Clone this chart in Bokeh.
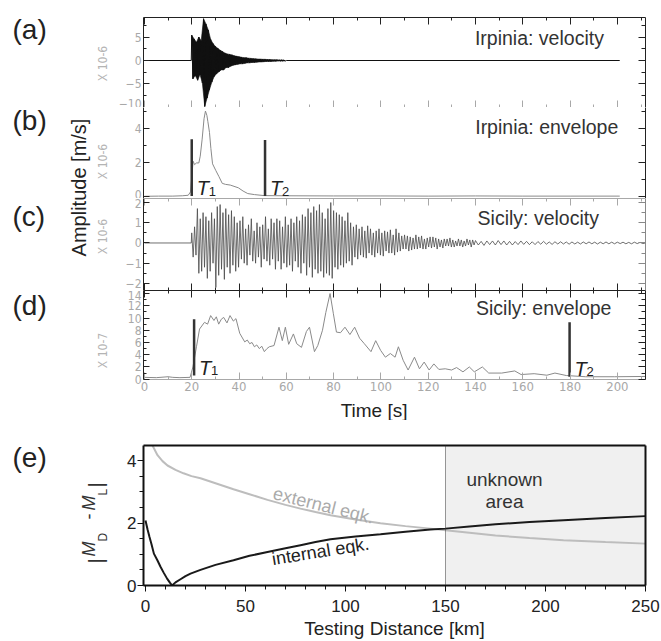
import numpy as np
from bokeh.plotting import figure
from bokeh.models import Range1d, LinearAxis, FixedTicker, BoxAnnotation, Span
from bokeh.layouts import row, column
from bokeh.embed import file_html
from bokeh.resources import INLINE
from bokeh.core.properties import value

# ------------------------------------------------------------------ data
# (a) Irpinia velocity [1e-6 m/s]: half-cycle peaks every 0.5 s starting at 20 s
a_start, a_step = 20.0, 0.5
a_vel = [5.4, -3.9, 4.6, -3.2, 3.9, -4.2, 5.0, -3.0, 4.2, -4.8,
         8.9, -9.8, 7.8, -8.0, 6.5, -6.2, 4.5, -4.6, 3.6, -3.4,
         3.0, -2.8, 2.6, -2.4, 2.2, -2.0, 1.9, -2.0, 1.6, -1.5,
         1.4, -1.5, 1.3, -1.2, 1.2, -1.0, 1.0, -0.9, 0.9, -0.8,
         0.8, -0.7, 0.7, -0.7, 0.6, -0.6, 0.6, -0.5, 0.5, -0.5,
         0.45, -0.4, 0.4, -0.4, 0.35, -0.35, 0.3, -0.3, 0.3, -0.3,
         0.25, -0.25, 0.25, -0.2, 0.2, -0.2, 0.2, -0.2, 0.15, -0.15,
         0.15, -0.15, 0.15, -0.1, 0.1, -0.1, 0.1, -0.1, 0.1, -0.1]
a_quiet_before = [0.0, 19.8]
a_quiet_after_end = 201.0

# (b) Irpinia envelope [1e-6 m/s]
b_t = [0, 6, 12, 16, 18.5, 19.5, 20.0, 20.6, 21.2, 22.0,
       23.0, 23.6, 24.4, 25.2, 25.8, 26.4, 26.8, 27.5, 28.1, 28.8,
       30.2, 31.5, 32.9, 34.3, 36.3, 39.7, 41.7, 43.7, 46.5, 50.6,
       60, 80, 100, 120, 140, 160, 180, 201]
b_env = [0.04, 0.05, 0.05, 0.07, 0.1, 0.3, 1.2, 2.1, 1.9, 2.0,
         2.0, 2.4, 3.4, 4.6, 5.05, 4.8, 4.45, 3.8, 2.85, 1.95,
         1.55, 1.2, 0.8, 0.74, 0.7, 0.54, 0.35, 0.2, 0.14, 0.08,
         0.07, 0.06, 0.06, 0.05, 0.06, 0.05, 0.05, 0.05]
b_T = [20.0, 51.0]
b_T_bot = [0.05, 0.05]
b_T_top = [3.4, 3.35]

# (c) Sicily velocity [1e-6 m/s]: half-cycle peaks every 0.6 s from 20 s, then tail every 1.2 s
c_start, c_step = 20.0, 0.6
c_vel = [0.5, -0.7, 0.8, -0.6, 1.7, -1.5, 1.2, -1.4, 1.5, -1.2,
         1.3, -1.75, 1.1, -1.4, 1.5, -1.0, 1.2, -2.2, 1.8, -1.6,
         1.9, -1.3, 1.5, -1.8, 1.7, -1.2, 1.4, -1.5, 1.6, -1.1,
         1.3, -1.4, 1.0, -1.2, 1.1, -0.8, 1.3, -1.0, 0.7, -1.1,
         0.9, -0.6, 1.2, -0.9, 0.6, -1.0, 1.0, -0.7, 0.8, -1.2,
         0.9, -0.8, 1.3, -0.9, 0.7, -1.1, 1.2, -0.8, 1.0, -1.3,
         1.2, -0.9, 1.1, -1.3, 0.8, -1.0, 1.3, -1.2, 0.9, -1.1,
         1.2, -1.4, 1.0, -0.9, 1.3, -1.2, 1.1, -1.5, 1.4, -1.0,
         1.3, -1.6, 1.7, -1.2, 1.5, -1.7, 1.8, -1.3, 1.6, -1.5,
         1.9, -1.4, 1.5, -1.7, 1.2, -1.5, 1.7, -1.6, 2.0, -1.75,
         1.6, -1.2, 1.5, -1.3, 1.4, -1.1, 1.3, -1.2, 1.1, -1.0,
         1.5, -0.9, 1.0, -1.1, 0.8, -0.7, 0.9, -0.8, 0.7, -0.6,
         0.8, -0.7, 0.6, -0.75, 0.85, -0.5, 0.7, -0.6, 0.5, -0.7,
         0.6, -0.5, 0.7, -0.6, 0.5, -0.65, 0.6, -0.4, 0.55, -0.5,
         0.65, -0.5, 0.4, -0.6, 0.7, -0.45, 0.5, -0.4, 0.35, -0.3,
         0.4, -0.3, 0.35, -0.4, 0.3, -0.35, 0.25, -0.3, 0.4, -0.3,
         0.3, -0.25, 0.35, -0.3, 0.2, -0.3, 0.25, -0.2, 0.3, -0.25,
         0.3, -0.2, 0.25, -0.3, 0.2, -0.2, 0.15, -0.25, 0.2, -0.15,
         0.2, -0.15, 0.25, -0.2, 0.15, -0.2, 0.1, -0.15, 0.2, -0.15,
         0.15, -0.2, 0.1, -0.15, 0.2, -0.1, 0.15, -0.2, 0.15, -0.1]
c_tail_start, c_tail_step = 140.0, 1.2
c_tail = [0.12, -0.1, 0.08, -0.12, 0.1, -0.08, 0.1, -0.1, 0.12, -0.08,
          0.1, -0.1, 0.08, -0.1, 0.07, -0.08, 0.1, -0.07, 0.08, -0.08,
          0.06, -0.08, 0.07, -0.06, 0.08, -0.06, 0.05, -0.07, 0.06, -0.05,
          0.06, -0.05, 0.05, -0.06, 0.05, -0.05, 0.04, -0.05, 0.05, -0.04,
          0.05, -0.04, 0.04, -0.05, 0.04, -0.04, 0.05, -0.04, 0.04, -0.04,
          0.04, -0.03, 0.04, -0.04, 0.03, -0.04, 0.04, -0.03, 0.03, -0.03]
c_quiet_before = [0.0, 19.8]

# (d) Sicily envelope [1e-7 m/s]
d_t = [0, 5, 10, 12, 15, 19.3, 20.5, 22.0, 23.3, 25.4,
       26.7, 28.0, 29.4, 30.4, 31.4, 32.5, 33.5, 34.9, 36.2, 37.6,
       38.7, 40.3, 42.4, 43.5, 44.5, 45.5, 46.5, 47.5, 48.6, 49.6,
       50.7, 51.8, 52.8, 54.8, 56.9, 58.3, 59.6, 61.0, 63.0, 64.4,
       66.4, 68.5, 69.8, 71.9, 73.3, 75.3, 76.7, 78.5, 79.9, 81.2,
       82.9, 84.8, 86.9, 88.9, 91.0, 93.0, 95.8, 97.8, 99.9, 101.9,
       104.0, 106.0, 107.4, 109.4, 111.5, 114.2, 116.3, 118.3, 120.4, 122.4,
       124.5, 127.2, 129.9, 132.0, 134.7, 137.4, 139.5, 142.9, 145.6, 151.1,
       156.6, 159.3, 164.8, 170.2, 173.6, 178.4, 186.6, 198.9, 212]
d_env = [0.3, 0.25, 0.4, 0.3, 0.25, 0.3, 2.0, 5.3, 8.2, 9.3,
         9.0, 10.4, 9.6, 10.2, 9.0, 9.8, 10.1, 9.2, 10.4, 9.5,
         9.9, 7.5, 6.1, 6.4, 5.8, 6.0, 5.3, 5.6, 5.0, 5.4,
         4.5, 5.0, 5.3, 5.5, 8.5, 6.3, 8.5, 5.7, 7.4, 5.8,
         5.2, 7.8, 8.5, 4.5, 5.5, 8.0, 10.9, 14.0, 10.7, 7.7,
         7.6, 8.5, 7.3, 8.5, 6.7, 5.8, 4.5, 6.3, 4.7, 3.6,
         4.2, 3.6, 5.3, 3.1, 1.5, 3.6, 1.7, 2.8, 1.5, 2.5,
         1.6, 1.7, 1.5, 1.9, 1.2, 2.0, 1.2, 2.0, 1.0, 1.0,
         1.35, 0.76, 0.9, 0.65, 1.0, 0.6, 0.4, 0.4, 0.45]
d_T = [21.0, 179.8]
d_T_bot = [0.6, 0.4]
d_T_top = [9.8, 9.3]

# time axis ticks
t_major = list(range(0, 201, 20))
t_minor = list(range(0, 211, 10))

# (e) |MD - ML| vs testing distance
int_d = [0, 1, 2, 3, 4.2, 6, 7.5, 9, 10.8, 12.2,
         13.3, 15, 17.5, 20, 22.5, 27.5, 35, 44, 52, 61,
         70, 77.5, 85, 92.5, 105, 117.5, 130, 142.5, 150, 162,
         175, 192, 209, 230, 250]
int_v = [2.08, 1.8, 1.55, 1.32, 1.02, 0.8, 0.6, 0.42, 0.22, 0.09,
         0.0, 0.1, 0.2, 0.3, 0.38, 0.5, 0.66, 0.81, 0.95, 1.07,
         1.19, 1.29, 1.39, 1.48, 1.57, 1.64, 1.72, 1.79, 1.82, 1.89,
         1.96, 2.03, 2.09, 2.16, 2.22]
ext_d = [2.0, 3.5, 6, 8.5, 11, 15, 19, 23, 27.5, 35,
         44, 52, 61, 70, 77.5, 85, 92.5, 105, 117.5, 130,
         142.5, 150, 162, 175, 192, 209, 230, 250]
ext_v = [4.75, 4.48, 4.17, 3.98, 3.84, 3.7, 3.59, 3.5, 3.43, 3.27,
         3.08, 2.92, 2.74, 2.58, 2.46, 2.35, 2.25, 2.11, 1.99, 1.9,
         1.82, 1.77, 1.69, 1.6, 1.52, 1.45, 1.39, 1.34]
unknown_area = [150, 250]
e_xticks = [0, 50, 100, 150, 200, 250]
e_xminor = list(range(0, 251, 10))
e_yticks = [0, 2, 4]
e_yminor = [0.5 * i for i in range(9)]

# ------------------------------------------------------------------ styles
FONT = "Liberation Sans"
NARROW = "Liberation Sans Narrow, DejaVu Sans Condensed, sans-serif"
INK = "#222222"
GREY = "#a8a8a8"

# ------------------------------------------------------------------ build traces
a_t = list(a_quiet_before) + [a_start + a_step * i for i in range(len(a_vel))]
a_y = [0.0, 0.0] + a_vel
a_t += [a_t[-1] + a_step, a_quiet_after_end]
a_y += [0.0, 0.0]
# dense band of the Irpinia trace: positive peaks forward, negative peaks backward
a_pk_t = [a_start + a_step * i for i in range(len(a_vel))]
a_up = [(t, v) for t, v in zip(a_pk_t, a_vel) if v > 0]
a_lo = [(t, v) for t, v in zip(a_pk_t, a_vel) if v < 0]
band_x = [t for t, _ in a_up] + [t for t, _ in reversed(a_lo)]
band_y = [v for _, v in a_up] + [v for _, v in reversed(a_lo)]

c_t = list(c_quiet_before) + [c_start + c_step * i for i in range(len(c_vel))] + \
      [c_tail_start + c_tail_step * i for i in range(len(c_tail))] + [211.9]
c_y = [0.0, 0.0] + c_vel + c_tail + [0.0]

xr = Range1d(-0.4, 211.9)
WIDTH = 553


def panel(yr, height, top=0, bottom=0):
    p = figure(width=WIDTH, height=height, x_range=xr, y_range=Range1d(*yr),
               x_axis_location=None, y_axis_location=None, toolbar_location=None,
               output_backend="svg", min_border_left=19, min_border_right=16,
               min_border_top=top, min_border_bottom=bottom)
    p.grid.visible = False
    p.outline_line_color = None
    return p


def hide_labels(ax):
    ax.major_label_text_font_size = "0px"
    ax.major_label_text_color = None
    ax.major_label_standoff = 0


def xaxis(color, labels=False):
    ax = LinearAxis(ticker=FixedTicker(ticks=t_major, minor_ticks=t_minor))
    ax.axis_line_color = color
    ax.major_tick_line_color = color
    ax.minor_tick_line_color = color
    ax.major_tick_in, ax.major_tick_out = 7, 0
    ax.minor_tick_in, ax.minor_tick_out = 3, 0
    if labels:
        ax.major_label_text_font = NARROW
        ax.major_label_text_font_size = "13px"
        ax.major_label_text_color = GREY
        ax.major_label_standoff = 2
    else:
        hide_labels(ax)
    return ax


def yaxes(p, major, minor, color=INK, rcolor=INK):
    left = LinearAxis(ticker=FixedTicker(ticks=major, minor_ticks=minor))
    left.axis_line_color = color
    left.major_tick_line_color = color
    left.minor_tick_line_color = color
    left.major_tick_in, left.major_tick_out = 6, 0
    left.minor_tick_in, left.minor_tick_out = 3, 0
    left.major_label_text_font = NARROW
    left.major_label_text_font_size = "12px"
    left.major_label_text_color = GREY
    left.major_label_standoff = 2
    p.add_layout(left, "left")
    right = LinearAxis(ticker=FixedTicker(ticks=major, minor_ticks=minor))
    right.axis_line_color = rcolor
    right.major_tick_line_color = rcolor
    right.minor_tick_line_color = rcolor
    right.major_tick_in, right.major_tick_out = 7, 0
    right.minor_tick_in, right.minor_tick_out = 4, 0
    hide_labels(right)
    p.add_layout(right, "right")


def title(p, x, y, txt):
    p.text(x=[x], y=[y], text=[txt], text_align="right", text_baseline="middle",
           text_font=value(FONT), text_font_size="19.5px", text_color="#333333")


def markers(p, ts, bots, tops, subs):
    p.segment(x0=ts, y0=bots, x1=ts, y1=tops, line_width=2.5, line_color="#333333")
    p.text(x=ts, y=bots, text=["T"] * len(ts), x_offset=5, y_offset=-8,
           text_font=value(FONT), text_font_style="italic", text_font_size="20px",
           text_color=INK, text_baseline="alphabetic", text_align="left")
    p.text(x=ts, y=bots, text=subs, x_offset=17, y_offset=-5,
           text_font=value(FONT), text_font_size="13px",
           text_color=INK, text_baseline="alphabetic", text_align="left")


# (a)
pa = panel((-10.02, 9.17), 107, top=17)
yaxes(pa, [-10, -5, 0, 5], [-7.5, -2.5, 2.5, 7.5])
pa.add_layout(xaxis(INK), "above")
pa.add_layout(xaxis(GREY), "below")
pa.patch(band_x, band_y, fill_color="#111111", line_color="#111111", line_width=0.6)
pa.line(a_t, a_y, line_color="#111111", line_width=1)
title(pa, 194.3, 4.7, "Irpinia: velocity")

# (b)
pb = panel((-0.09, 5.26), 91)
yaxes(pb, [0, 2, 4], [1, 3, 5])
pb.line(b_t, b_env, line_color="#8a8a8a", line_width=1)
markers(pb, b_T, b_T_bot, b_T_top, ["1", "2"])
title(pb, 200.4, 4.09, "Irpinia: envelope")

# (c)
pc = panel((-2.35, 2.2), 92)
yaxes(pc, [-2, -1, 0, 1, 2], [-1.5, -0.5, 0.5, 1.5], rcolor="#888888")
pc.add_layout(xaxis(GREY), "above")
pc.add_layout(xaxis(INK), "below")
pc.line(c_t, c_y, line_color="#4a4a4a", line_width=0.8)
title(pc, 192.2, 1.26, "Sicily: velocity")

# (d)
pd_ = panel((-0.05, 14.5), 108, bottom=19)
yaxes(pd_, list(range(0, 15, 2)), list(range(1, 15, 2)))
pd_.add_layout(xaxis(INK), "above")
pd_.add_layout(xaxis(GREY, labels=True), "below")
pd_.line(d_t, d_env, line_color="#8a8a8a", line_width=1)
markers(pd_, d_T, d_T_bot, d_T_top, ["1", "2"])
title(pd_, 197.5, 11.6, "Sicily: envelope")

# strip carrying the time-axis title
pt = figure(width=WIDTH, height=22, x_range=Range1d(0, WIDTH), y_range=Range1d(0, 22),
            x_axis_location=None, y_axis_location=None, toolbar_location=None,
            output_backend="svg", min_border=0)
pt.grid.visible = False
pt.outline_line_color = None
pt.text(x=[254], y=[10], text=["Time [s]"], text_align="center", text_baseline="middle",
        text_font=value(FONT), text_font_size="19px", text_color=INK)

# (e)
pe = figure(width=WIDTH, height=221, x_range=Range1d(-1, 250), y_range=Range1d(0, 4.48),
            x_axis_location=None, y_axis_location=None, toolbar_location=None,
            output_backend="svg", min_border_left=35, min_border_right=16,
            min_border_top=25, min_border_bottom=56)
pe.grid.visible = False
pe.outline_line_color = None
pe.add_layout(BoxAnnotation(left=unknown_area[0], right=unknown_area[1], fill_color="#f0f0f0",
                            fill_alpha=1, line_color=None, level="underlay"))
pe.add_layout(Span(location=unknown_area[0], dimension="height", line_color="#333333",
                   line_width=1, line_dash="1 1"))
pe.line(ext_d, ext_v, line_color="#bdbdbd", line_width=2)
pe.line(int_d, int_v, line_color="#1a1a1a", line_width=2)

xe = LinearAxis(ticker=FixedTicker(ticks=e_xticks, minor_ticks=e_xminor),
                axis_label="Testing Distance [km]")
ye = LinearAxis(ticker=FixedTicker(ticks=e_yticks, minor_ticks=e_yminor))
for ax in (xe, ye):
    ax.axis_line_color = "#111111"
    ax.axis_line_width = 2
    ax.major_tick_line_color = "#111111"
    ax.minor_tick_line_color = "#111111"
    ax.major_tick_in, ax.major_tick_out = 0, 6
    ax.minor_tick_in, ax.minor_tick_out = 0, 4
    ax.major_label_text_font = FONT
    ax.major_label_text_font_size = "17px"
    ax.major_label_text_color = INK
xe.major_label_standoff = 8
ye.major_label_standoff = 1
xe.axis_label_text_font = FONT
xe.axis_label_text_font_size = "19px"
xe.axis_label_text_font_style = "normal"
xe.axis_label_text_color = INK
xe.axis_label_standoff = 3
pe.add_layout(xe, "below")
pe.add_layout(ye, "left")
for side in ("above", "right"):
    fr = LinearAxis(ticker=FixedTicker(ticks=[]))
    fr.axis_line_color = "#111111"
    fr.axis_line_width = 2
    fr.major_tick_in = fr.major_tick_out = 0
    fr.minor_tick_in = fr.minor_tick_out = 0
    hide_labels(fr)
    pe.add_layout(fr, side)

pe.text(x=[89], y=[2.56], text=["external eqk."], angle=-0.245, text_align="center",
        text_baseline="middle", text_font=value(FONT), text_font_size="18px", text_color="#aaaaaa")
pe.text(x=[87.5], y=[1.09], text=["internal eqk."], angle=0.16, text_align="center",
        text_baseline="middle", text_font=value(FONT), text_font_size="18px", text_color=INK)
pe.text(x=[179.5], y=[3.03], text=["unknown\narea"], text_align="center",
        text_baseline="middle", text_line_height=1.05, text_font=value(FONT),
        text_font_size="19px", text_color="#333333")

# ------------------------------------------------------------------ left strip with outer texts
H = 641
strip = figure(width=108, height=H, x_range=Range1d(0, 108), y_range=Range1d(0, H),
               x_axis_location=None, y_axis_location=None, toolbar_location=None,
               output_backend="svg", min_border=0)
strip.grid.visible = False
strip.outline_line_color = None


def sy(px):
    return [H - v for v in px]


strip.text(x=[12] * 5, y=sy([29, 120, 216, 305, 457]), text=["(a)", "(b)", "(c)", "(d)", "(e)"],
           text_align="left", text_baseline="middle", text_font=value(FONT),
           text_font_size="28px", text_color=INK)
strip.text(x=[78], y=sy([187]), text=["Amplitude [m/s]"], angle=np.pi / 2, text_align="center",
           text_baseline="middle", text_font=value(FONT), text_font_size="20px", text_color=INK)
strip.text(x=[102] * 4, y=sy([63, 161, 236, 350]), text=["X 10-6", "X 10-6", "X 10-6", "X 10-7"],
           angle=np.pi / 2, text_align="center", text_baseline="middle",
           text_font=value(NARROW), text_font_size="12px", text_color="#b4b4b4")
# |M_D - M_L| label pieces
pieces = [("|", 95, 563, "21px", "normal"), ("M", 88, 556, "18px", "italic"),
          ("D", 102, 541, "12px", "normal"), ("-", 88, 519, "18px", "normal"),
          ("M", 88, 510, "18px", "italic"), ("L", 102, 495, "12px", "normal"),
          ("|", 95, 487, "21px", "normal")]
for txt, px, py, fs, st in pieces:
    strip.text(x=[px], y=sy([py]), text=[txt], angle=np.pi / 2, text_align="left",
               text_baseline="alphabetic", text_font=value(FONT), text_font_size=fs,
               text_font_style=st, text_color="#333333")

layout = row(strip, column(pa, pb, pc, pd_, pt, pe))
open("out.html", "w").write(file_html(layout, INLINE))
